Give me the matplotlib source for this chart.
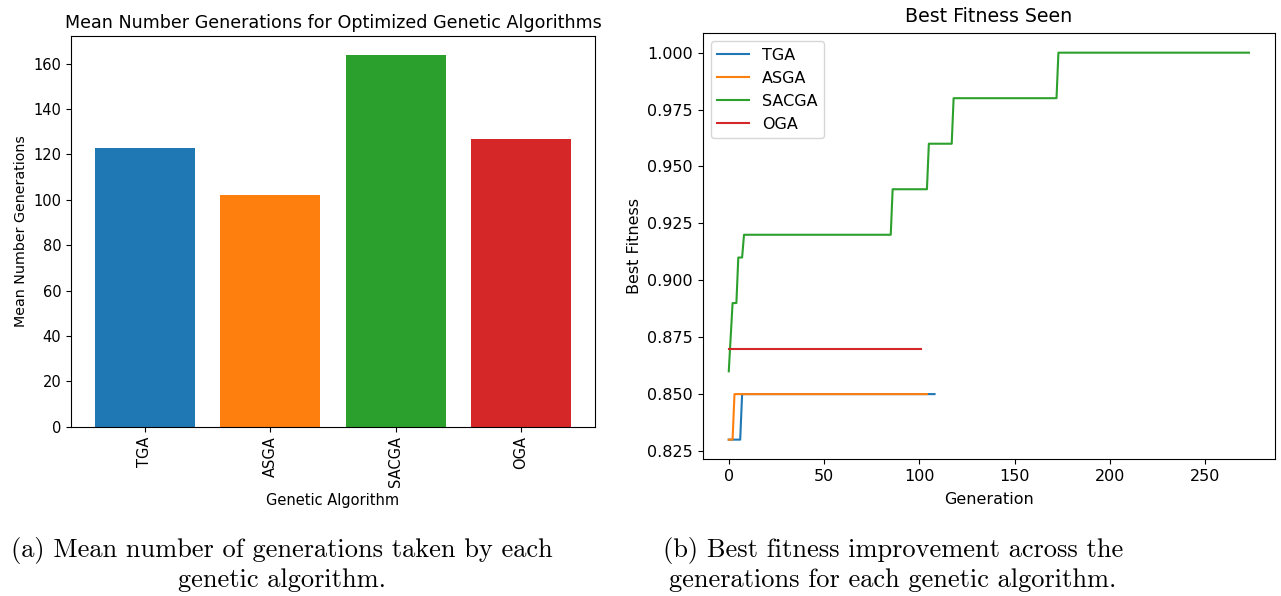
import matplotlib
matplotlib.use("Agg")
from matplotlib import pyplot as plt

# Bar chart data
algorithms = ["TGA", "ASGA", "SACGA", "OGA"]
mean_generations = [123.0, 102.0, 164.0, 126.8]
bar_colors = ["tab:blue", "tab:orange", "tab:green", "tab:red"]

# Best fitness seen (generation, fitness) corner points of each run
tga_gen = [0, 6, 7, 108]
tga_fit = [0.83, 0.83, 0.85, 0.85]

asga_gen = [0, 2, 3, 104]
asga_fit = [0.83, 0.83, 0.85, 0.85]

sacga_gen = [0, 2, 4, 5, 7, 8, 85, 86, 104, 105, 117, 118, 172, 173, 273]
sacga_fit = [0.86, 0.89, 0.89, 0.91, 0.91, 0.92, 0.92, 0.94, 0.94, 0.96,
             0.96, 0.98, 0.98, 1.00, 1.00]

oga_gen = [0, 101]
oga_fit = [0.87, 0.87]

fig = plt.figure(figsize=(12.81, 5.96), dpi=100)

# Left: bar chart
ax1 = fig.add_axes([0.0554, 0.2841, 0.4091, 0.6555])
ax1.bar(algorithms, mean_generations, color=bar_colors)
ax1.set_title("Mean Number Generations for Optimized Genetic Algorithms", fontsize=12.6)
ax1.set_xlabel("Genetic Algorithm", fontsize=10.5)
ax1.set_ylabel("Mean Number Generations", fontsize=10.3)
ax1.tick_params(axis="x", labelrotation=90, labelsize=10.5)
ax1.tick_params(axis="y", labelsize=10.5)

# Right: best fitness line chart
ax2 = fig.add_axes([0.5486, 0.2299, 0.4467, 0.7142])
ax2.plot(tga_gen, tga_fit, label="TGA")
ax2.plot(asga_gen, asga_fit, label="ASGA")
ax2.plot(sacga_gen, sacga_fit, label="SACGA")
ax2.plot(oga_gen, oga_fit, label="OGA")
ax2.set_title("Best Fitness Seen", fontsize=13.7, pad=8)
ax2.set_xlabel("Generation", fontsize=11.5, labelpad=6)
ax2.set_ylabel("Best Fitness", fontsize=11.5)
ax2.tick_params(labelsize=11.5)
ax2.legend(loc="upper left", fontsize=11.5)

# Captions
cap = dict(fontfamily="cmr10", fontsize=19, ha="center", va="center")
fig.text(282 / 1281, 1 - 550 / 596, "(a) Mean number of generations taken by each", **cap)
fig.text(282 / 1281, 1 - 580 / 596, "genetic algorithm.", **cap)
fig.text(893 / 1281, 1 - 550 / 596, "(b) Best fitness improvement across the", **cap)
fig.text(893 / 1281, 1 - 580 / 596, "generations for each genetic algorithm.", **cap)

fig.savefig("out.png", dpi=100)
